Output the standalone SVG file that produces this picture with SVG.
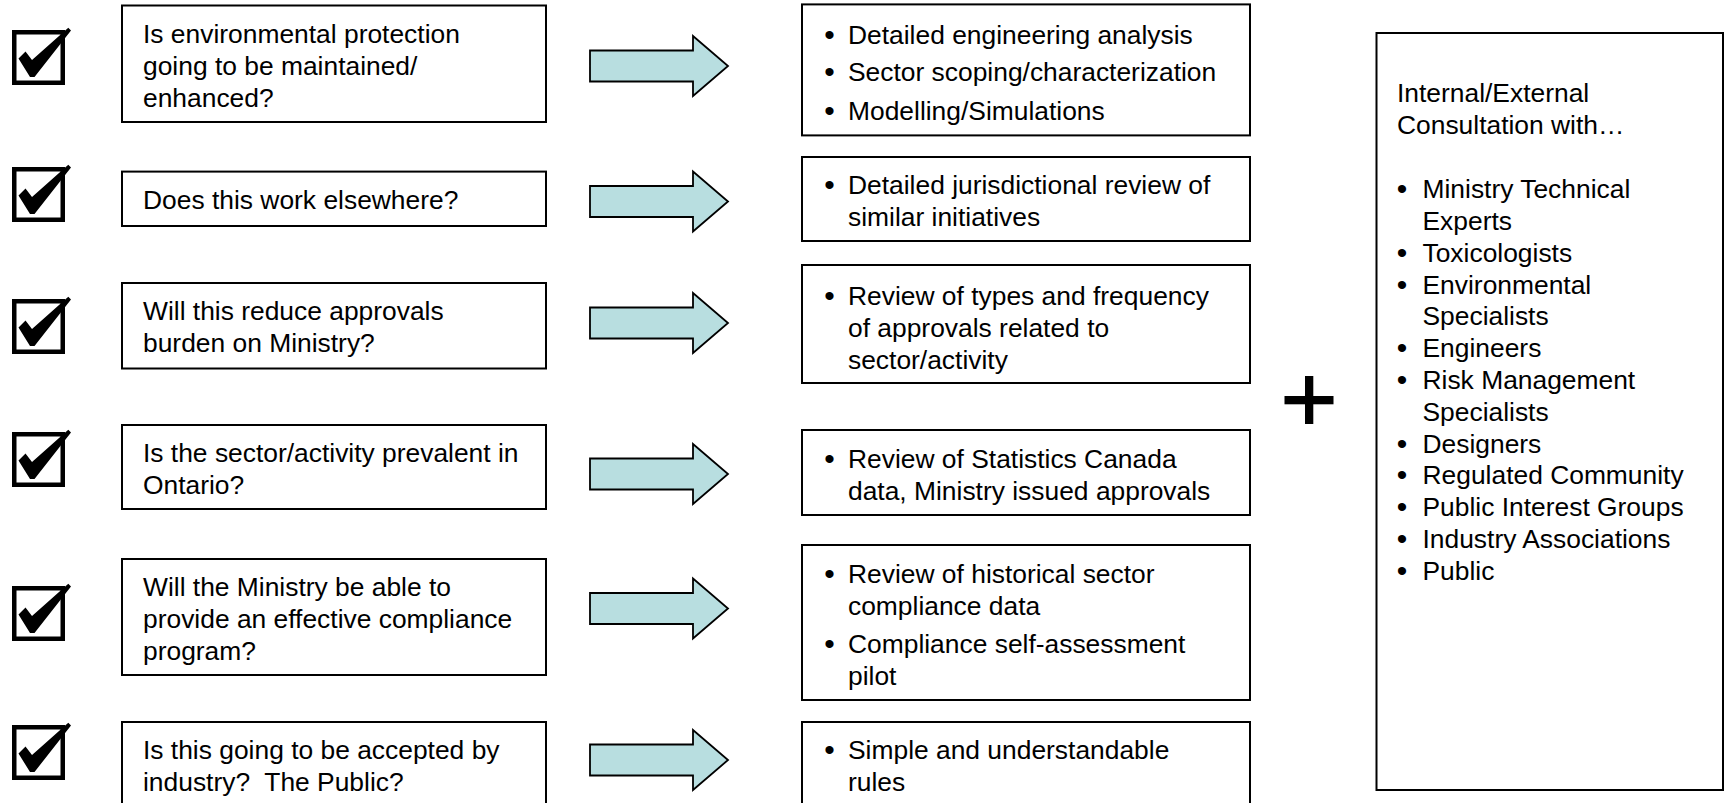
<svg xmlns="http://www.w3.org/2000/svg" width="1725" height="803" viewBox="0 0 1725 803">
<style>
  .bx{fill:#fff;stroke:#000;stroke-width:2}
  .t{font-family:"Liberation Sans",Arial,sans-serif;font-size:26.4px;fill:#000}
  .bm{text-anchor:middle;font-size:30px}
  .ar{fill:#B8DEE0;stroke:#000;stroke-width:1.8;stroke-linejoin:miter}
</style>
<defs>
  <g id="chk">
    <rect x="14.25" y="32.25" width="48.5" height="50.5" fill="#fff" stroke="#000" stroke-width="4.5"/>
    <path d="M18.5,58.5 L25.5,51.5 L32,60 L68.3,27.7 L71,30.5 L34.5,77 L30,77 Z" fill="#000"/>
  </g>
  <path id="arr" d="M590,-15.5 H693 V-30 L728,0 L693,30 V15.5 H590 Z"/>
</defs>
<rect width="1725" height="803" fill="#fff"/>

<g id="checks">
  <use href="#chk"/>
  <use href="#chk" transform="translate(0,137)"/>
  <use href="#chk" transform="translate(0,269)"/>
  <use href="#chk" transform="translate(0,402)"/>
  <use href="#chk" transform="translate(0,556)"/>
  <use href="#chk" transform="translate(0,695)"/>
</g>

<g id="q1"><rect class="bx" x="122" y="5.5" width="424" height="116.5"/>
  <text class="t" x="143" y="42.5">Is environmental protection</text>
  <text class="t" x="143" y="74.5">going to be maintained/</text>
  <text class="t" x="143" y="106.5">enhanced?</text></g>
<g id="q2"><rect class="bx" x="122" y="171.6" width="424" height="54.4"/>
  <text class="t" x="143" y="208.5">Does this work elsewhere?</text></g>
<g id="q3"><rect class="bx" x="122" y="283" width="424" height="85.5"/>
  <text class="t" x="143" y="319.5">Will this reduce approvals</text>
  <text class="t" x="143" y="351.5">burden on Ministry?</text></g>
<g id="q4"><rect class="bx" x="122" y="425" width="424" height="84"/>
  <text class="t" x="143" y="461.5">Is the sector/activity prevalent in</text>
  <text class="t" x="143" y="493.5">Ontario?</text></g>
<g id="q5"><rect class="bx" x="122" y="559" width="424" height="116"/>
  <text class="t" x="143" y="595.5">Will the Ministry be able to</text>
  <text class="t" x="143" y="627.5">provide an effective compliance</text>
  <text class="t" x="143" y="659.5">program?</text></g>
<g id="q6"><rect class="bx" x="122" y="722" width="424" height="90"/>
  <text class="t" x="143" y="758.5">Is this going to be accepted by</text>
  <text class="t" x="143" y="790.5" xml:space="preserve">industry?  The Public?</text></g>

<g id="connectors">
  <use href="#arr" class="ar" transform="translate(0,66)"/>
  <use href="#arr" class="ar" transform="translate(0,201.5)"/>
  <use href="#arr" class="ar" transform="translate(0,323)"/>
  <use href="#arr" class="ar" transform="translate(0,474)"/>
  <use href="#arr" class="ar" transform="translate(0,608.5)"/>
  <use href="#arr" class="ar" transform="translate(0,760)"/>
</g>

<g id="a1"><rect class="bx" x="802" y="4.4" width="448" height="131"/>
  <text class="t bm" x="829.5" y="44.5">•</text><text class="t" x="848" y="43.5">Detailed engineering analysis</text>
  <text class="t bm" x="829.5" y="82">•</text><text class="t" x="848" y="81">Sector scoping/characterization</text>
  <text class="t bm" x="829.5" y="120.5">•</text><text class="t" x="848" y="119.5">Modelling/Simulations</text></g>
<g id="a2"><rect class="bx" x="802" y="157" width="448" height="84"/>
  <text class="t bm" x="829.5" y="194.5">•</text><text class="t" x="848" y="193.5">Detailed jurisdictional review of</text>
  <text class="t" x="848" y="225.5">similar initiatives</text></g>
<g id="a3"><rect class="bx" x="802" y="265" width="448" height="118"/>
  <text class="t bm" x="829.5" y="305.5">•</text><text class="t" x="848" y="304.5">Review of types and frequency</text>
  <text class="t" x="848" y="336.5">of approvals related to</text>
  <text class="t" x="848" y="368.5">sector/activity</text></g>
<g id="a4"><rect class="bx" x="802" y="430" width="448" height="85"/>
  <text class="t bm" x="829.5" y="468.5">•</text><text class="t" x="848" y="467.5">Review of Statistics Canada</text>
  <text class="t" x="848" y="499.5">data, Ministry issued approvals</text></g>
<g id="a5"><rect class="bx" x="802" y="545" width="448" height="155"/>
  <text class="t bm" x="829.5" y="583.5">•</text><text class="t" x="848" y="582.5">Review of historical sector</text>
  <text class="t" x="848" y="614.5">compliance data</text>
  <text class="t bm" x="829.5" y="654">•</text><text class="t" x="848" y="653">Compliance self-assessment</text>
  <text class="t" x="848" y="685">pilot</text></g>
<g id="a6"><rect class="bx" x="802" y="722" width="448" height="90"/>
  <text class="t bm" x="829.5" y="759.5">•</text><text class="t" x="848" y="758.5">Simple and understandable</text>
  <text class="t" x="848" y="790.5">rules</text></g>

<g id="plus">
  <rect x="1305" y="376" width="8.3" height="48" fill="#000"/>
  <rect x="1284.5" y="396" width="49" height="8.3" fill="#000"/>
</g>

<g id="consult">
  <rect class="bx" x="1376.5" y="33" width="346.5" height="757"/>
  <text class="t" x="1397" y="102">Internal/External</text>
  <text class="t" x="1397" y="133.5">Consultation with…</text>
  <text class="t bm" x="1402" y="199">•</text><text class="t" x="1422.5" y="198">Ministry Technical</text>
  <text class="t" x="1422.5" y="230">Experts</text>
  <text class="t bm" x="1402" y="263">•</text><text class="t" x="1422.5" y="262">Toxicologists</text>
  <text class="t bm" x="1402" y="294.5">•</text><text class="t" x="1422.5" y="293.5">Environmental</text>
  <text class="t" x="1422.5" y="325">Specialists</text>
  <text class="t bm" x="1402" y="358">•</text><text class="t" x="1422.5" y="357">Engineers</text>
  <text class="t bm" x="1402" y="390">•</text><text class="t" x="1422.5" y="389">Risk Management</text>
  <text class="t" x="1422.5" y="421">Specialists</text>
  <text class="t bm" x="1402" y="453.5">•</text><text class="t" x="1422.5" y="452.5">Designers</text>
  <text class="t bm" x="1402" y="485">•</text><text class="t" x="1422.5" y="484">Regulated Community</text>
  <text class="t bm" x="1402" y="517">•</text><text class="t" x="1422.5" y="516">Public Interest Groups</text>
  <text class="t bm" x="1402" y="549">•</text><text class="t" x="1422.5" y="548">Industry Associations</text>
  <text class="t bm" x="1402" y="581">•</text><text class="t" x="1422.5" y="580">Public</text>
</g>
</svg>
